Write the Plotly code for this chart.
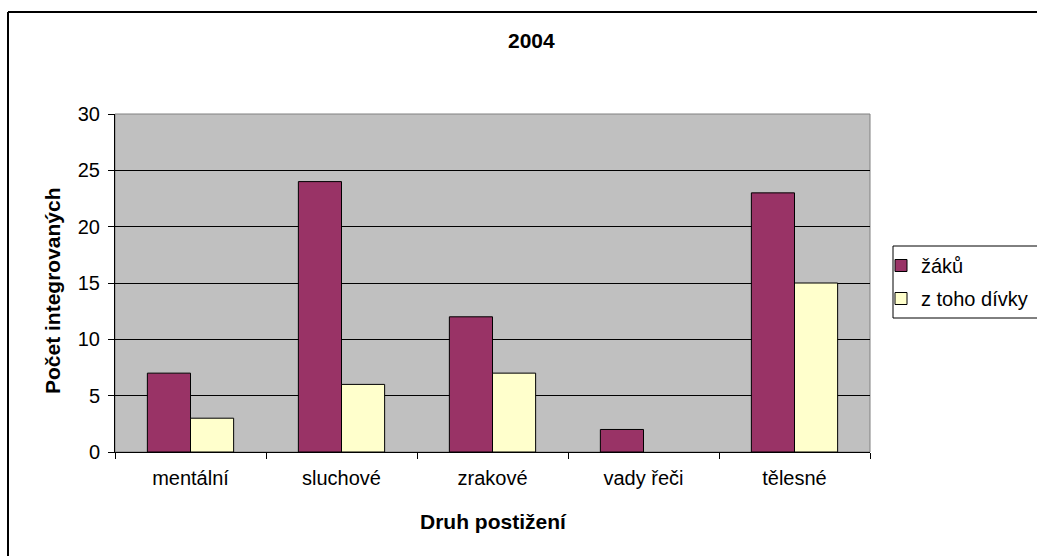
import plotly.graph_objects as go

categories = ["mentální", "sluchové", "zrakové", "vady řeči", "tělesné"]
zaku = [7, 24, 12, 2, 23]
divky = [3, 6, 7, 0, 15]
series_names = ["žáků", "z toho dívky"]
y_ticks = [0, 5, 10, 15, 20, 25, 30]

W, H = 1037, 556
L, R, T, B = 115, 870, 114, 452
pw, ph = R - L, B - T

def px(x):
    return (x - L) / pw

def py(y):
    return (B - y) / ph

FONT = "Liberation Sans, Arial, sans-serif"

fig = go.Figure()
fig.add_trace(go.Bar(x=categories, y=zaku, name=series_names[0],
                     marker=dict(color="#993366",
                                 line=dict(color="black", width=[1 if v else 0 for v in zaku])),
                     legendgroup="a"))
fig.add_trace(go.Bar(x=categories, y=divky, name=series_names[1],
                     marker=dict(color="#FFFFCC",
                                 line=dict(color="black", width=[1 if v else 0 for v in divky])),
                     legendgroup="b"))

fig.update_layout(
    width=W, height=H,
    margin=dict(l=L, r=W - R, t=T, b=H - B, autoexpand=False),
    paper_bgcolor="white",
    plot_bgcolor="#C0C0C0",
    barmode="group",
    bargap=1.5 / 3.5,
    bargroupgap=0,
    font=dict(family=FONT, size=20, color="black"),
    showlegend=True,
    legend=dict(x=px(881), y=py(246), xanchor="left", yanchor="top",
                borderwidth=0, bgcolor="rgba(0,0,0,0)",
                font=dict(size=20), tracegroupgap=4, itemwidth=30),
    xaxis=dict(showline=True, linecolor="black", linewidth=1,
               ticks="outside", ticklen=6, tickcolor="black", tickson="boundaries",
               showgrid=False, tickfont=dict(size=20), mirror=False, ticklabelstandoff=8),
    yaxis=dict(range=[0, 30], tickvals=y_ticks, showline=True, linecolor="black", linewidth=1,
               ticks="outside", ticklen=6, tickcolor="black",
               showgrid=True, gridcolor="black", gridwidth=1,
               zeroline=False, tickfont=dict(size=20), ticklabelstandoff=4),
    shapes=[
        dict(type="rect", xref="paper", yref="paper", x0=0, x1=1, y0=0, y1=1,
             line=dict(color="#808080", width=1), layer="below"),
        # outer chart border (left and top edges visible)
        dict(type="line", xref="paper", yref="paper", x0=px(8), x1=px(8), y0=py(600), y1=py(12),
             line=dict(color="black", width=2), layer="below"),
        dict(type="line", xref="paper", yref="paper", x0=px(8), x1=px(1100), y0=py(12), y1=py(12),
             line=dict(color="black", width=2), layer="below"),
        # legend box
        dict(type="rect", xref="paper", yref="paper", x0=px(893), x1=px(1100), y0=py(318), y1=py(246),
             line=dict(color="black", width=1), fillcolor="white", layer="above"),
    ],
    annotations=[
        dict(text="<b>2004</b>", xref="paper", yref="paper", x=px(531), y=py(41),
             xanchor="center", yanchor="middle", showarrow=False, font=dict(size=21)),
        dict(text="<b>Druh postižení</b>", xref="paper", yref="paper", x=px(493), y=py(521),
             xanchor="center", yanchor="middle", showarrow=False, font=dict(size=21)),
        dict(text="<b>Počet integrovaných</b>", xref="paper", yref="paper", x=px(52), y=py(291),
             xanchor="center", yanchor="middle", showarrow=False, textangle=-90, font=dict(size=21)),
    ],
)

fig.write_html("out.html")
